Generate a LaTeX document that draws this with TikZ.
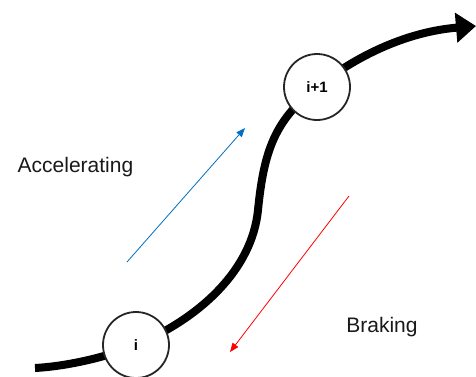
\documentclass[tikz,border=0pt]{standalone}
\usepackage{fontspec}
\setmainfont{Liberation Sans}
\usetikzlibrary{arrows.meta}
\definecolor{accblue}{RGB}{0,112,192}
\definecolor{brkred}{RGB}{255,0,0}
\tikzset{
  station/.style={circle, draw=black!85, line width=1.8pt, fill=white, minimum size=66pt, inner sep=0pt, font=\fontsize{15}{18}\selectfont\bfseries},
  lbl/.style={font=\fontsize{21}{25}\selectfont, inner sep=0pt, text=black!90},
  track/.style={line width=8pt, black},
  thinarrow/.style={line width=0.8pt, -{Triangle[length=9pt,width=7pt]}}
}
\begin{document}
\begin{tikzpicture}[x=1pt,y=-1pt]
\useasboundingbox (0,0) rectangle (476,376);
\coordinate (start) at (35,368);
\coordinate (end) at (476,26);
\coordinate (p1) at (136,345);
\coordinate (p2) at (317,87);
\coordinate (mid) at (258,210);
\draw[track, -{Triangle[length=20pt,width=29pt]}]
  (start) .. controls (70,366) and (110,356) .. (p1)
  .. controls (200,318) and (252,270) .. (mid)
  .. controls (264,150) and (275,120) .. (p2)
  .. controls (355,57) and (405,32) .. (end);
\node[station] (ni) at (136,345) {i};
\node[station] (nip) at (317,87) {i+1};
\coordinate (ba) at (127,262);
\coordinate (bb) at (245,128);
\draw[thinarrow, accblue] (ba) -- (bb);
\coordinate (ra) at (349,196);
\coordinate (rb) at (230,352);
\draw[thinarrow, brkred] (ra) -- (rb);
\node[lbl] (acc) at (75.5,167) {Accelerating};
\node[lbl] (brk) at (382,327) {Braking};
\end{tikzpicture}
\end{document}
